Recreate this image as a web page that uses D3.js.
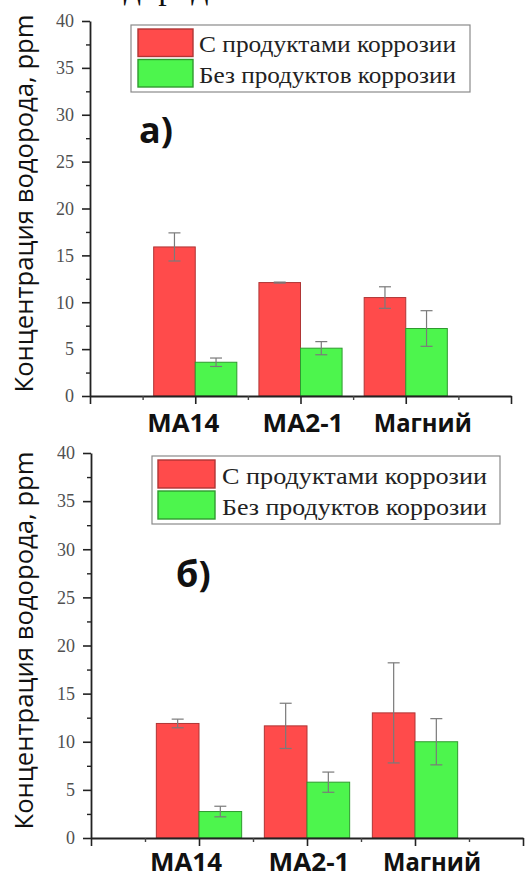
<!DOCTYPE html>
<html>
<head>
<meta charset="utf-8">
<script src="https://cdn.jsdelivr.net/npm/d3@7/dist/d3.min.js"></script>
<style>
  html, body { margin: 0; padding: 0; background: #fff; }
  svg { display: block; }
</style>
</head>
<body>
<div id="chart"></div>
<script>
const categories = ['MA14', 'MA2-1', 'Магний'];
const seriesNames = ['С продуктами коррозии', 'Без продуктов коррозии'];

// panel а)
const aWith = [15.9, 12.1, 10.5];
const aWithErr = [1.5, 0.05, 1.15];
const aWithout = [3.6, 5.1, 7.2];
const aWithoutErr = [0.45, 0.7, 1.9];

// panel б)
const bWith = [11.9, 11.65, 13.0];
const bWithErr = [0.45, 2.35, 5.2];
const bWithout = [2.75, 5.8, 10.0];
const bWithoutErr = [0.55, 1.05, 2.4];

const yMajor = [0, 5, 10, 15, 20, 25, 30, 35, 40];
const yMinor = [2.5, 7.5, 12.5, 17.5, 22.5, 27.5, 32.5, 37.5];

const FILL = ['#ff4b4b', '#4df54d'];
const EDGE = ['#b03535', '#2f9a2f'];

const width = 529, height = 877;

const svg = d3.select('#chart')
  .append('svg')
  .attr('width', width)
  .attr('height', height);

// cut-off line of caption text above the figure (only descenders show)
svg.append('text')
  .attr('x', 92)
  .attr('y', -1)
  .attr('font-family', 'Liberation Serif, serif')
  .attr('font-size', '34px')
  .attr('fill', '#111')
  .text('водорода');

const panels = [
  {
    label: 'а)', values: [aWith, aWithout], errs: [aWithErr, aWithoutErr],
    x0: 90, x1: 511, yTop: 21, yBottom: 396,
    legend: { x: 131, y: 25, w: 339, h: 67, sx: 138, sw: 55, text: 199, tl: 257 },
    labelX: 139, labelY: 143, tickLabelY: 432, titleX: 33, labelSpread: [-12, 17]
  },
  {
    label: 'б)', values: [bWith, bWithout], errs: [bWithErr, bWithoutErr],
    x0: 91, x1: 523, yTop: 453, yBottom: 838,
    legend: { x: 152, y: 456, w: 348, h: 68, sx: 158, sw: 57, text: 222, tl: 265 },
    labelX: 176, labelY: 587, tickLabelY: 871, titleX: 33, labelSpread: [-13, 17]
  }
];

panels.forEach(p => drawPanel(p));

function drawPanel(p) {
  const x = d3.scaleLinear().domain([0, 4]).range([p.x0, p.x1]);
  const y = d3.scaleLinear().domain([0, 40]).range([p.yBottom, p.yTop]);
  const barW = 0.395;

  const g = svg.append('g');

  // bars
  p.values.forEach((vals, s) => {
    g.selectAll(null)
      .data(vals)
      .join('rect')
      .attr('x', (d, i) => s === 0 ? x(i + 1 - barW) : x(i + 1))
      .attr('width', x(barW) - x(0))
      .attr('y', d => y(d))
      .attr('height', d => y(0) - y(d))
      .attr('fill', FILL[s])
      .attr('stroke', EDGE[s])
      .attr('stroke-width', 1);
  });

  // error bars
  p.values.forEach((vals, s) => {
    const errs = p.errs[s];
    const cx = i => x(i + 1 + (s === 0 ? -barW / 2 : barW / 2));
    const eg = g.selectAll(null)
      .data(vals)
      .join('g')
      .attr('stroke', '#7a7a7a')
      .attr('stroke-width', 1.2);
    eg.append('line')
      .attr('x1', (d, i) => cx(i)).attr('x2', (d, i) => cx(i))
      .attr('y1', (d, i) => y(d - errs[i])).attr('y2', (d, i) => y(d + errs[i]));
    eg.append('line')
      .attr('x1', (d, i) => cx(i) - 6).attr('x2', (d, i) => cx(i) + 6)
      .attr('y1', (d, i) => y(d + errs[i])).attr('y2', (d, i) => y(d + errs[i]));
    eg.append('line')
      .attr('x1', (d, i) => cx(i) - 6).attr('x2', (d, i) => cx(i) + 6)
      .attr('y1', (d, i) => y(d - errs[i])).attr('y2', (d, i) => y(d - errs[i]));
  });

  // y axis
  const yAxis = g.append('g')
    .attr('transform', `translate(${p.x0},0)`)
    .call(d3.axisLeft(y).tickValues(yMajor).tickSize(8).tickSizeOuter(0).tickPadding(8));
  yAxis.select('.domain').attr('stroke', '#222').attr('stroke-width', 1.8);
  yAxis.selectAll('.tick line').attr('stroke', '#222').attr('stroke-width', 1.6);
  yAxis.selectAll('.tick text')
    .attr('font-family', 'Liberation Serif, serif')
    .attr('font-size', '18px')
    .attr('fill', '#505050');
  const yMin = g.append('g')
    .attr('transform', `translate(${p.x0},0)`)
    .call(d3.axisLeft(y).tickValues(yMinor).tickSize(4).tickFormat(''));
  yMin.select('.domain').remove();
  yMin.selectAll('.tick line').attr('stroke', '#222').attr('stroke-width', 1.4);

  // x axis
  const xAxis = g.append('g')
    .attr('transform', `translate(0,${p.yBottom})`)
    .call(d3.axisBottom(x).tickValues([0, 1, 2, 3, 4]).tickSize(8).tickSizeOuter(0).tickFormat(''));
  xAxis.select('.domain').attr('stroke', '#222').attr('stroke-width', 1.8);
  xAxis.selectAll('.tick line').attr('stroke', '#222').attr('stroke-width', 1.6);
  const xMin = g.append('g')
    .attr('transform', `translate(0,${p.yBottom})`)
    .call(d3.axisBottom(x).tickValues([0.5, 1.5, 2.5, 3.5]).tickSize(4).tickFormat(''));
  xMin.select('.domain').remove();
  xMin.selectAll('.tick line').attr('stroke', '#444').attr('stroke-width', 1.4);

  // category labels
  const xl = d3.scaleLinear().domain([1, 3]).range([x(1) + p.labelSpread[0], x(3) + p.labelSpread[1]]);
  const labelLen = [72, 81, 98];
  g.selectAll(null)
    .data(categories)
    .join('text')
    .attr('x', (d, i) => xl(i + 1))
    .attr('y', p.tickLabelY)
    .attr('text-anchor', 'middle')
    .attr('font-family', 'Open Sans, sans-serif')
    .attr('font-weight', 'bold')
    .attr('font-size', '25px')
    .attr('fill', '#111')
    .attr('textLength', (d, i) => labelLen[i])
    .attr('lengthAdjust', 'spacingAndGlyphs')
    .text(d => d);

  // y title
  g.append('text')
    .attr('transform', `translate(${p.titleX},${(p.yTop + p.yBottom) / 2 - 5}) rotate(-90)`)
    .attr('text-anchor', 'middle')
    .attr('font-family', 'Open Sans, sans-serif')
    .attr('font-size', '25px')
    .attr('fill', '#111')
    .attr('textLength', 378)
    .attr('lengthAdjust', 'spacingAndGlyphs')
    .text('Концентрация водорода, ppm');

  // panel label
  g.append('text')
    .attr('x', p.labelX)
    .attr('y', p.labelY)
    .attr('font-family', 'Open Sans, sans-serif')
    .attr('font-weight', 'bold')
    .attr('font-size', '36px')
    .attr('fill', '#111')
    .text(p.label);

  // legend
  const L = p.legend;
  const lg = g.append('g');
  lg.append('rect')
    .attr('x', L.x).attr('y', L.y).attr('width', L.w).attr('height', L.h)
    .attr('fill', '#fff').attr('stroke', '#8a8a8a').attr('stroke-width', 1.2);
  const rowH = (L.h - 6) / 2;
  seriesNames.forEach((name, s) => {
    lg.append('rect')
      .attr('x', L.sx).attr('y', L.y + 3 + s * rowH + 1)
      .attr('width', L.sw).attr('height', rowH - 3)
      .attr('fill', FILL[s]).attr('stroke', EDGE[s]).attr('stroke-width', 1.4);
    lg.append('text')
      .attr('x', L.text)
      .attr('y', L.y + 3 + s * rowH + rowH * 0.8)
      .attr('font-family', 'Liberation Serif, serif')
      .attr('font-size', '24px')
      .attr('fill', '#222')
      .attr('textLength', L.tl)
      .attr('lengthAdjust', 'spacingAndGlyphs')
      .text(name);
  });
}
</script>
</body>
</html>
